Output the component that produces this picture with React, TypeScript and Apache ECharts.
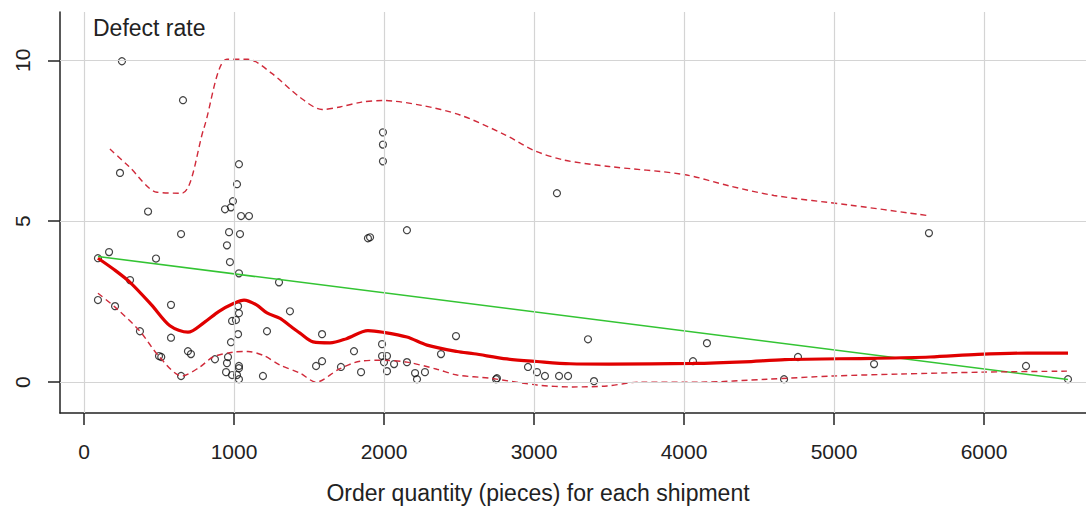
import React, { useEffect, useRef } from "react";
import * as echarts from "echarts";

// Scatter observations: order quantity (pieces) and defect rate
const quantity = [
  93, 93, 167, 207, 240, 253, 307, 373, 427, 480, 500, 515, 580, 580, 647, 647, 660, 693, 713, 873,
  1033, 1020, 993, 980, 940, 1047, 1100, 967, 1040, 953, 973, 1033, 1027, 1033, 987, 1013, 1027, 980,
  960, 953, 1033, 1033, 947, 987, 1020, 1033, 1193, 1220, 1300, 1373, 1547, 1587, 1587, 1713, 1800,
  1847, 1893, 1907, 1987, 1987, 2020, 2000, 2067, 2153, 2020, 2207, 2220, 2273, 2380, 2480, 1993,
  1993, 1993, 2153, 3153, 3360, 2747, 2753, 2960, 3020, 3073, 3167, 3227, 3400, 4153, 4060, 4760,
  4667, 5267, 6280, 6560, 5633,
];
const defectRate = [
  3.85, 2.55, 4.04, 2.36, 6.5, 9.97, 3.17, 1.58, 5.3, 3.84, 0.81, 0.78, 2.4, 1.38, 0.19, 4.6, 8.76, 0.96, 0.87, 0.71,
  6.77, 6.15, 5.62, 5.43, 5.37, 5.16, 5.16, 4.66, 4.6, 4.25, 3.73, 3.38, 2.36, 2.14, 1.9, 1.93, 1.49, 1.24,
  0.78, 0.59, 0.5, 0.43, 0.31, 0.22, 0.22, 0.09, 0.19, 1.58, 3.1, 2.2, 0.5, 0.65, 1.49, 0.47, 0.96,
  0.31, 4.47, 4.5, 1.18, 0.81, 0.81, 0.62, 0.56, 0.62, 0.34, 0.28, 0.09, 0.31, 0.87, 1.43, 7.76,
  7.38, 6.86, 4.72, 5.87, 1.33, 0.09, 0.12, 0.47, 0.31, 0.19, 0.19, 0.19, 0.03, 1.21, 0.65, 0.78,
  0.09, 0.56, 0.5, 0.09, 4.63,
];

// Linear fit (green)
const linearX = [93, 6560];
const linearY = [3.9, 0.08];

// Smooth fit (thick red)
const smoothX = [
  93, 200, 307, 450, 573, 693, 800, 900, 1000, 1067, 1150, 1220, 1307, 1373, 1440, 1527, 1640, 1750,
  1893, 1993, 2153, 2287, 2487, 2600, 2820, 3020, 3240, 3500, 4060, 4400, 4673, 5273, 5640, 5960, 6287, 6560,
];
const smoothY = [
  3.85, 3.5, 3.1, 2.4, 1.75, 1.55, 1.85, 2.2, 2.45, 2.55, 2.4, 2.15, 1.98, 1.75, 1.52, 1.25, 1.22, 1.35,
  1.6, 1.55, 1.4, 1.15, 0.95, 0.88, 0.72, 0.64, 0.57, 0.56, 0.58, 0.63, 0.7, 0.74, 0.78, 0.86, 0.9, 0.9,
];

// Upper band (dashed red)
const upperX = [
  173, 300, 487, 653, 800, 953, 1093, 1250, 1440, 1587, 1707, 1850, 1993, 2250, 2507, 2800, 3000, 3200,
  3500, 4000, 4300, 4600, 5107, 5633,
];
const upperY = [
  7.24, 6.7, 5.9, 5.87, 7.9, 10.03, 10.03, 9.6, 8.85, 8.47, 8.55, 8.7, 8.75, 8.6, 8.3, 7.7, 7.2, 6.9,
  6.7, 6.45, 6.1, 5.8, 5.5, 5.17,
];

// Lower band (dashed red)
const lowerX = [
  93, 207, 373, 500, 653, 773, 860, 993, 1093, 1200, 1307, 1440, 1547, 1700, 1840, 1973, 2153, 2353, 2487,
  2707, 3020, 3260, 3487, 3707, 4107, 4553, 4993, 5440, 5993, 6553,
];
const lowerY = [
  2.76, 2.33, 1.58, 0.8, 0.19, 0.47, 0.78, 0.93, 0.95, 0.82, 0.53, 0.28, 0.0, 0.4, 0.65, 0.68, 0.62, 0.4,
  0.22, 0.12, -0.09, -0.15, -0.12, 0.0, 0.0, 0.09, 0.19, 0.25, 0.31, 0.34,
];

const xTicks = [0, 1000, 2000, 3000, 4000, 5000, 6000];
const yTicks = [0, 5, 10];

const xTitle = "Order quantity (pieces) for each shipment";
const yTitle = "Defect rate";

const FONT = "'Liberation Sans', Arial, sans-serif";

const zip = (xs: number[], ys: number[]) => xs.map((x, i) => [x, ys[i]]);

export default function App() {
  const ref = useRef<HTMLDivElement>(null);
  useEffect(() => {
    if (!ref.current) return;
    const chart = echarts.init(ref.current, null, { renderer: "svg" });
    chart.setOption({
      animation: false,
      backgroundColor: "#ffffff",
      grid: { left: 60, top: 12, right: 0, bottom: 97, containLabel: false },
      xAxis: {
        type: "value",
        min: -160,
        max: 6680,
        axisLine: { show: true, onZero: false, lineStyle: { color: "#222", width: 1.5 } },
        axisTick: { show: true, length: 12, customValues: xTicks, lineStyle: { color: "#222", width: 1.5 } },
        axisLabel: {
          customValues: xTicks,
          formatter: (v: number) => String(v),
          fontFamily: FONT,
          fontSize: 21,
          color: "#222",
          margin: 28,
        },
        splitLine: { show: false },
      },
      yAxis: {
        type: "value",
        min: -0.96,
        max: 11.5,
        axisLine: { show: true, onZero: false, lineStyle: { color: "#222", width: 1.5 } },
        axisTick: { show: true, length: 12, customValues: yTicks, lineStyle: { color: "#222", width: 1.5 } },
        axisLabel: {
          customValues: yTicks,
          formatter: (v: number) => String(v),
          rotate: 90,
          fontFamily: FONT,
          fontSize: 21,
          color: "#222",
          margin: 27,
        },
        splitLine: { show: false },
      },
      graphic: [
        {
          type: "text",
          left: 93,
          top: 16,
          style: { text: yTitle, font: `23px ${FONT}`, fill: "#222" },
        },
        {
          type: "text",
          x: 538,
          y: 493,
          style: {
            text: xTitle,
            font: `23px ${FONT}`,
            fill: "#222",
            align: "center",
            verticalAlign: "middle",
          },
        },
      ],
      series: [
        {
          type: "scatter",
          data: zip(quantity, defectRate),
          symbol: "circle",
          symbolSize: 7,
          itemStyle: { color: "transparent", borderColor: "#111", borderWidth: 1.2 },
          markLine: {
            silent: true,
            symbol: "none",
            label: { show: false },
            lineStyle: { color: "#d4d4d4", type: "solid", width: 1.2 },
            data: [
              ...xTicks.map((v) => ({ xAxis: v })),
              ...yTicks.map((v) => ({ yAxis: v })),
            ],
          },
        },
        {
          type: "line",
          data: zip(linearX, linearY),
          symbol: "none",
          lineStyle: { color: "#33c433", width: 1.5 },
        },
        {
          type: "line",
          data: zip(upperX, upperY),
          symbol: "none",
          smooth: 0.3,
          lineStyle: { color: "#d02a3a", width: 1.4, type: [6, 4] },
        },
        {
          type: "line",
          data: zip(lowerX, lowerY),
          symbol: "none",
          smooth: 0.3,
          lineStyle: { color: "#d02a3a", width: 1.4, type: [6, 4] },
        },
        {
          type: "line",
          data: zip(smoothX, smoothY),
          symbol: "none",
          smooth: 0.3,
          lineStyle: { color: "#e00000", width: 3.2 },
        },
      ],
    });
    return () => chart.dispose();
  }, []);
  return (
    <div
      ref={ref}
      style={{ position: "fixed", left: 0, top: 0, width: 1086, height: 510, background: "#fff" }}
    />
  );
}
